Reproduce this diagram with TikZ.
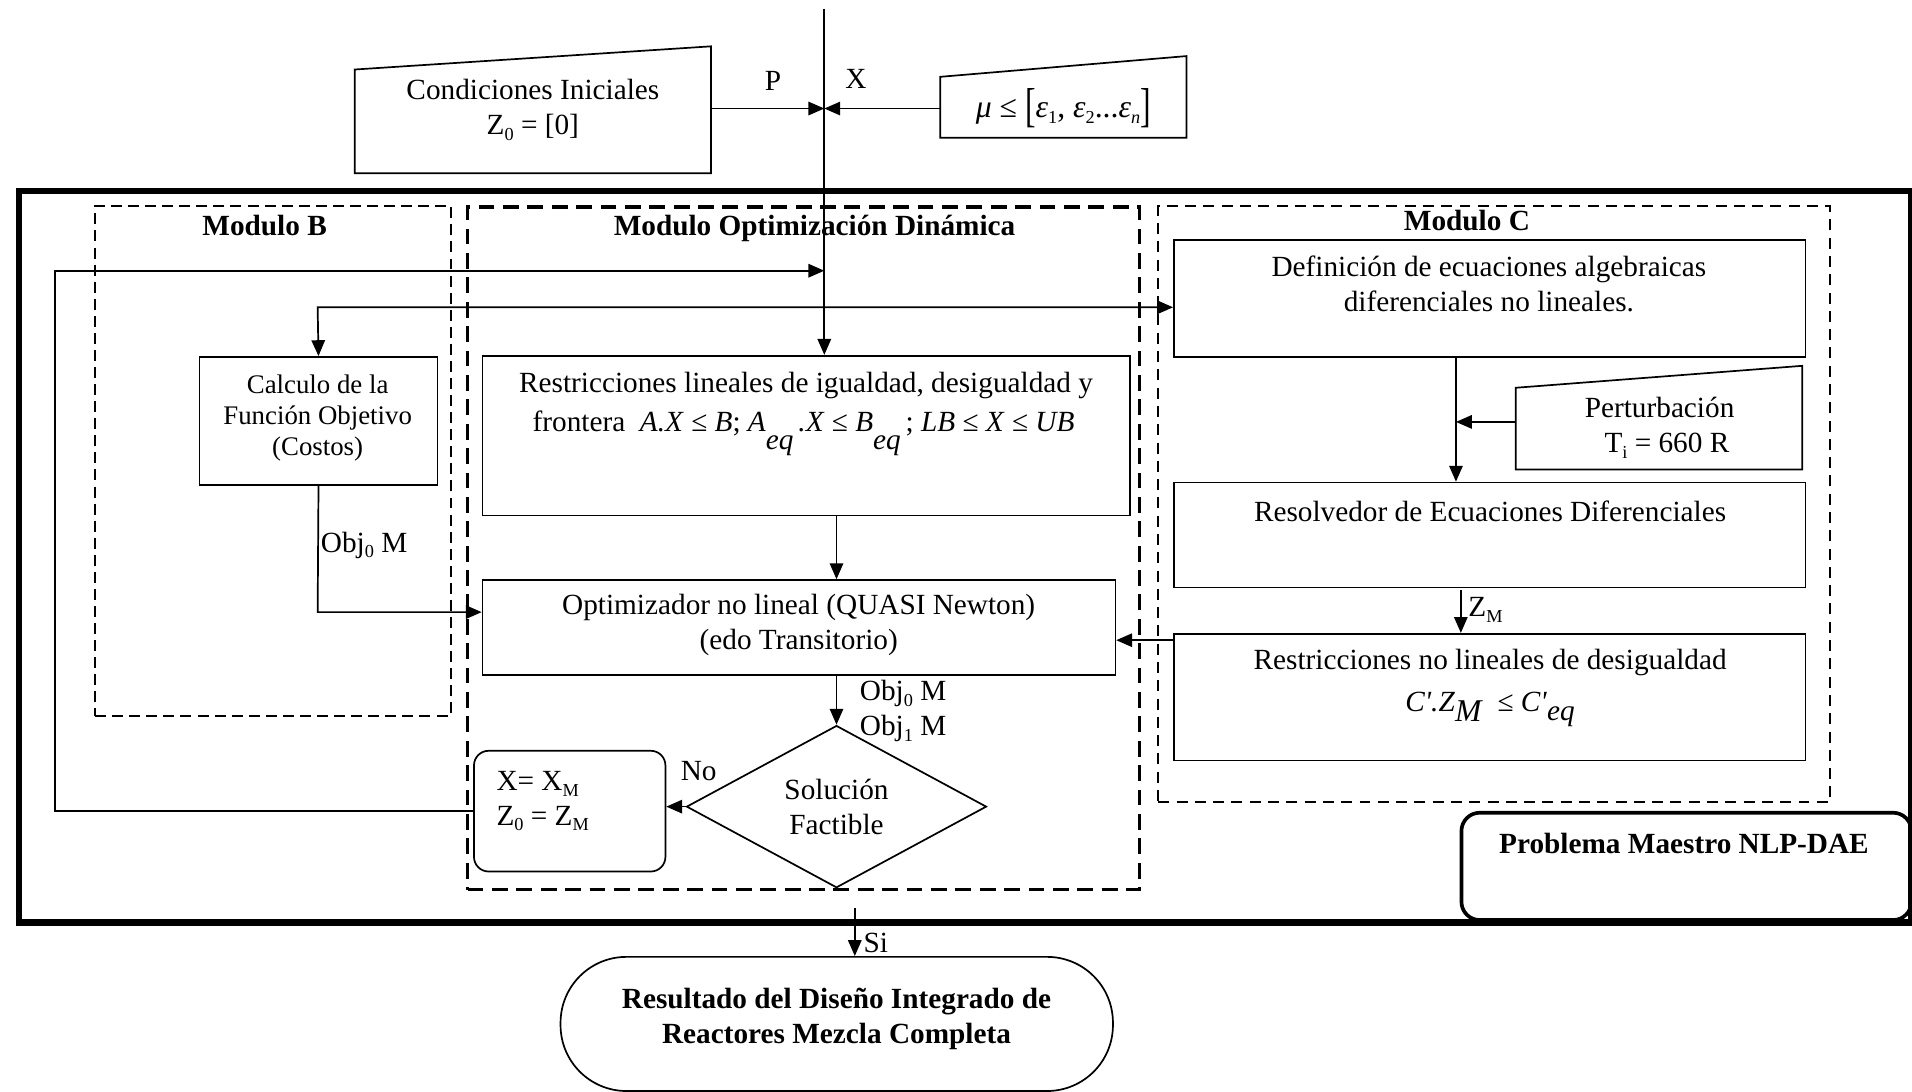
\documentclass[tikz,border=0pt]{standalone}
\usepackage{graphicx}
\usepackage{fontspec}
\setmainfont{Liberation Serif}
\usetikzlibrary{arrows.meta,shapes.geometric}
\newcommand\lowsub[1]{\raisebox{-0.2em}{\fontsize{15}{15}\selectfont #1}}
\newcommand\eqsub[2]{\raisebox{#1}[0pt][0pt]{#2}}
\begin{document}
\begin{tikzpicture}[x=1pt,y=-1pt,
  every node/.style={font=\fontsize{24}{28.5}\selectfont, inner sep=0pt},
  box/.style={draw, line width=1.4pt, anchor=north west},
  ln/.style={line width=1.4pt},
  arr/.style={line width=1.4pt, -{Triangle[length=13pt,width=11pt]}},
  dbl/.style={line width=1.4pt, {Triangle[length=13pt,width=11pt]}-{Triangle[length=13pt,width=11pt]}},
  dashB/.style={draw, line width=2pt, dash pattern=on 9pt off 5pt, anchor=north west},
  dashO/.style={draw, line width=3pt, dash pattern=on 13pt off 7pt, anchor=north west},
  dashC/.style={draw, line width=1.8pt, dash pattern=on 9pt off 6pt, anchor=north west},
  ttl/.style={font=\fontsize{24}{28.5}\selectfont\bfseries},
  txt/.style={align=center},
]
\useasboundingbox (0,0) rectangle (1568,895);

% ---------- frames ----------
\node[draw, line width=5pt, anchor=north west, minimum width=1552pt, minimum height=600pt] (outer) at (13,154) {};
\node[dashB, minimum width=292pt, minimum height=418pt] (modB) at (77,168) {};
\node[dashO, minimum width=551pt, minimum height=560pt] (modO) at (382,168) {};
\node[dashC, minimum width=551pt, minimum height=489pt] (modC) at (949,168) {};
\node[ttl] (modBT) at (217,185) {Modulo B};
\node[ttl] (modOT) at (668,187) {Modulo Optimización Dinámica};
\node[ttl] (modCT) at (1203,181) {Modulo C};

% ---------- inputs at top ----------
\draw[ln] (291,57) -- (583,38) -- (583,142) -- (291,142) -- cycle;
\node[txt] (ciT) at (437,90) {Condiciones Iniciales\\Z\lowsub{0} = [0]};
\coordinate (ciE) at (583,89);
\draw[ln] (771,63) -- (973,46) -- (973,113) -- (771,113) -- cycle;
\node[font=\fontsize{26}{28}\selectfont] (muT) at (872,89) {\textit{μ} ≤ \raisebox{-0.15em}{\scalebox{1}[1.5]{[}}\textit{ε}\lowsub{1}, \textit{ε}\lowsub{2}...\textit{ε}\lowsub{\textit{n}}\raisebox{-0.15em}{\scalebox{1}[1.5]{]}}};
\coordinate (muW) at (771,89);
\coordinate (top) at (676,7);

% ---------- boxes ----------
\node[box, minimum width=195pt, minimum height=105pt] (calc) at (163,292) {};
\node[txt, font=\fontsize{22}{25.5}\selectfont] (calcT) at (260.5,343) {Calculo de la\\Función Objetivo\\(Costos)};

\node[box, minimum width=531pt, minimum height=131pt] (restr) at (395,291) {};
\node[txt] (restrT1) at (661,316) {Restricciones lineales de igualdad, desigualdad y};
\node[txt] (restrT2) at (659,347) {frontera\ \ \textit{A.X} ≤ \textit{B}; \textit{A}\eqsub{-0.62em}{\textit{eq}}\,\textit{.X} ≤ \textit{B}\eqsub{-0.62em}{\textit{eq}}\,; \textit{LB} ≤ \textit{X} ≤ \textit{UB}};

\node[box, minimum width=519pt, minimum height=78pt] (opt) at (395,475) {};
\node[txt] (optT) at (655,512.5) {Optimizador no lineal (QUASI Newton)\\(edo Transitorio)};

\node[draw, line width=1.4pt, diamond, minimum width=246pt, minimum height=133pt, aspect=1.85, align=center] (dia) at (686,661.5) {Solución\\Factible};

\node[box, rounded corners=12pt, minimum width=157pt, minimum height=99pt] (xbox) at (388,615) {};
\node[anchor=west, align=left] (xT) at (407,657) {X= X\lowsub{M}\\Z\lowsub{0} = Z\lowsub{M}};

\node[box, rounded corners=54pt, minimum width=453pt, minimum height=110pt] (res) at (459,784) {};
\node[txt, ttl] (resT) at (686,835.5) {Resultado del Diseño Integrado de\\Reactores Mezcla Completa};

% Modulo C
\node[box, minimum width=518pt, minimum height=96pt] (def) at (962,196) {};
\node[txt] (defT) at (1221,233) {Definición de ecuaciones algebraicas\\diferenciales no lineales.};
\draw[ln] (1243,318) -- (1478,300) -- (1478,385) -- (1243,385) -- cycle;
\node[txt] (pertT) at (1361,351) {Perturbación\\\ \ T\lowsub{i} = 660 R};
\coordinate (pertW) at (1243,346);
\node[box, minimum width=518pt, minimum height=86pt] (resv) at (962,395) {};
\node[txt] (resvT) at (1222,419) {Resolvedor de Ecuaciones Diferenciales};
\node[box, minimum width=518pt, minimum height=104pt] (rnl) at (962,519) {};
\node[txt] (rnlT1) at (1222,543) {Restricciones no lineales de desigualdad};
\node[txt] (rnlT2) at (1222,576) {\textit{C\textquotesingle.Z}\eqsub{-0.32em}{\fontsize{26}{26}\selectfont\textit{M}}\ \ ≤ \textit{C\textquotesingle}\eqsub{-0.28em}{\textit{eq}}};

\node[draw, line width=3pt, rounded corners=15pt, anchor=north west, minimum width=369pt, minimum height=88pt] (pm) at (1197,665) {};
\node[ttl] (pmT) at (1381,692) {Problema Maestro NLP-DAE};

% ---------- connectors ----------
\draw[arr] (top) -- (top |- restr.north);
\draw[arr] (ciE) -- (ciE -| top);
\draw[arr] (muW) -- (muW -| top);
\node (pL) at (634,66) {P};
\node (xL) at (702,65) {X};

\coordinate (fbL) at (45,222);
\draw[arr] (xbox.west) -| (fbL) -- (fbL -| top);

\coordinate (br) at (260.5,252);
\draw[dbl] (calc.north) -- (br) -- (br -| def.west);

\coordinate (cOpt) at (260.5,502);
\draw[arr] (calc.south) -- (cOpt) -- (cOpt -| opt.west);
\node[anchor=west] (obj0L) at (263,447) {Obj\lowsub{0} M};

\coordinate (vx) at (686,0);
\draw[arr] (restr.south -| vx) -- (opt.north -| vx);
\draw[arr] (opt.south -| vx) -- (dia.north);
\node[anchor=west, align=left] (objL) at (705,583) {Obj\lowsub{0} M\\Obj\lowsub{1} M};

\draw[arr] (dia.west) -- (dia.west -| xbox.east);
\node (noL) at (573,632) {No};

\coordinate (siS) at (701,745);
\draw[arr] (siS) -- (siS |- res.north);
\node[anchor=west] (siL) at (708,773) {Si};

\coordinate (cx) at (1194,0);
\draw[arr] (def.south -| cx) -- (resv.north -| cx);
\draw[arr] (pertW) -- (pertW -| cx);
\coordinate (zx) at (1198,484);
\draw[arr] (zx) -- (zx |- rnl.north);
\node[anchor=west] (zL) at (1204,500) {Z\lowsub{M}};
\coordinate (rnlW) at (962,525);
\draw[arr] (rnlW) -- (rnlW -| opt.east);
\end{tikzpicture}
\end{document}
